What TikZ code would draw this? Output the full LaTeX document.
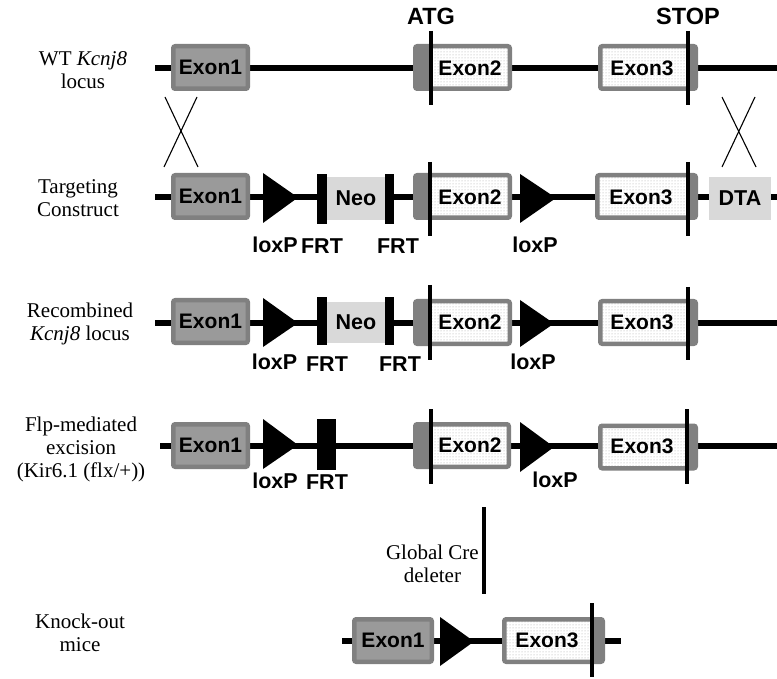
\documentclass[tikz,border=0pt]{standalone}
\usepackage{fontspec}
\setmainfont{Liberation Serif}
\newfontfamily\arialb{Liberation Sans}
\usetikzlibrary{patterns}
\definecolor{exborder}{HTML}{808080}
\definecolor{exfill}{HTML}{9A9A9A}
\definecolor{neofill}{HTML}{D9D9D9}
\definecolor{dotgray}{HTML}{A8A8A8}
\begin{document}
\begin{tikzpicture}[x=1pt,y=-1pt,
  dna/.style={line width=5.5pt},
  exbase/.style={draw=exborder, line width=4.5pt, rounded corners=2pt, inner sep=0pt, outer sep=0pt, minimum height=42.5pt},
  exonA/.style={exbase, fill=exfill, font=\arialb\bfseries\fontsize{21}{23}\selectfont},
  exonB/.style={exbase, preaction={fill=white}, pattern=dots, pattern color=dotgray},
  graypart/.style={fill=exborder},
  exlab/.style={font=\arialb\bfseries\fontsize{21}{23}\selectfont, inner sep=0pt},
  lab/.style={font=\arialb\bfseries\fontsize{21.5}{23}\selectfont, inner sep=0pt},
  biglab/.style={font=\arialb\bfseries\fontsize{23.5}{25}\selectfont, inner sep=0pt},
  codon/.style={line width=3.5pt},
  cross/.style={line width=1.1pt},
  frtbar/.style={fill=black, draw=none, inner sep=0pt, outer sep=0pt},
  greybox/.style={fill=neofill, draw=none, inner sep=0pt, outer sep=0pt, font=\arialb\bfseries\fontsize{21.5}{23}\selectfont},
  side/.style={align=center, font=\fontsize{21}{23}\selectfont, inner sep=0pt},
  loxp/.style={fill=black},
]
\useasboundingbox (0,0) rectangle (777,679);

% ---------- side labels ----------
\node[side] (l1) at (83,70) {WT \textit{Kcnj8}\\locus};
\node[side] (l2) at (78,198.5) {Targeting\\Construct};
\node[side] (l3) at (80,323.5) {Recombined\\\textit{Kcnj8} locus};
\node[side] (l4) at (81,449) {Flp-mediated\\excision\\(Kir6.1 (flx/+))};
\node[side] (l5) at (80,633) {Knock-out\\mice};

% ---------- Row 1: WT ----------
\draw[dna] (155,68) -- (777,68);
\node[exonA, minimum width=74.5pt] (r1e1) at (210.5,67.5) {Exon1};
\node[exonB, minimum width=94.5pt] (r1e2) at (462.5,67.5) {};
\coordinate (r1atg) at (431,68);
\fill[graypart] (r1e2.north west) rectangle (r1e2.south -| r1atg);
\node[exlab] (r1e2t) at (470,68) {Exon2};
\node[exonB, minimum width=95.5pt] (r1e3) at (648,67.5) {};
\coordinate (r1stop) at (688,68);
\fill[graypart] (r1e3.north east) rectangle (r1e3.south -| r1stop);
\node[exlab] (r1e3t) at (642,68) {Exon3};
\draw[codon] (431,31) -- (431,105);
\draw[codon] (688,31) -- (688,105);
\node[biglab] (atg) at (431,16.5) {ATG};
\node[biglab] (stop) at (688,16.5) {STOP};

% crosses
\draw[cross] (165,97) -- (198,167);
\draw[cross] (197,97) -- (164,167);
\draw[cross] (722,97) -- (756,167);
\draw[cross] (755,97) -- (722,167);

% ---------- Row 2: Targeting construct ----------
\draw[dna] (155,197) -- (777,197);
\node[exonA, minimum width=74.5pt] (r2e1) at (210.5,196.5) {Exon1};
\fill[loxp] (263,173) -- (298,197.5) -- (263,223) -- cycle;
\node[greybox, minimum width=58pt, minimum height=43pt] (r2neo) at (356,198.5) {Neo};
\node[frtbar, minimum width=10pt, minimum height=50pt] (r2f1) at (322,199) {};
\node[frtbar, minimum width=9pt, minimum height=50pt] (r2f2) at (389.5,199) {};
\node[exonB, minimum width=94.5pt] (r2e2) at (462.5,196.5) {};
\coordinate (r2atg) at (430,197);
\fill[graypart] (r2e2.north west) rectangle (r2e2.south -| r2atg);
\node[exlab] (r2e2t) at (470,197) {Exon2};
\fill[loxp] (520,174) -- (556,198) -- (520,223) -- cycle;
\node[exonB, minimum width=98.5pt] (r2e3) at (646.5,196.5) {};
\coordinate (r2stop) at (688,197);
\fill[graypart] (r2e3.north east) rectangle (r2e3.south -| r2stop);
\node[exlab] (r2e3t) at (641,197) {Exon3};
\node[greybox, minimum width=62pt, minimum height=43pt] (dta) at (740,198.5) {DTA};
\draw[codon] (430,162) -- (430,236);
\draw[codon] (688,162) -- (688,236);
\node[lab] (r2lx1) at (275,245) {loxP};
\node[lab] (r2fr1) at (322,246) {FRT};
\node[lab] (r2fr2) at (398,246) {FRT};
\node[lab] (r2lx2) at (535,245) {loxP};

% ---------- Row 3: Recombined locus ----------
\draw[dna] (155,323) -- (777,323);
\node[exonA, minimum width=74.5pt] (r3e1) at (210.5,321.5) {Exon1};
\fill[loxp] (263,298) -- (298,323) -- (263,347) -- cycle;
\node[greybox, minimum width=58pt, minimum height=41pt] (r3neo) at (356,322.5) {Neo};
\node[frtbar, minimum width=10pt, minimum height=48pt] (r3f1) at (322,321) {};
\node[frtbar, minimum width=9pt, minimum height=48pt] (r3f2) at (389.5,321) {};
\node[exonB, minimum width=94.5pt] (r3e2) at (462.5,322.5) {};
\coordinate (r3atg) at (430,323);
\fill[graypart] (r3e2.north west) rectangle (r3e2.south -| r3atg);
\node[exlab] (r3e2t) at (470,322) {Exon2};
\fill[loxp] (520,300) -- (554,323.5) -- (520,347) -- cycle;
\node[exonB, minimum width=95.5pt] (r3e3) at (648,322.5) {};
\coordinate (r3stop) at (688,323);
\fill[graypart] (r3e3.north east) rectangle (r3e3.south -| r3stop);
\node[exlab] (r3e3t) at (642,322) {Exon3};
\draw[codon] (430,285) -- (430,360);
\draw[codon] (688,287) -- (688,360);
\node[lab] (r3lx1) at (274.5,362) {loxP};
\node[lab] (r3fr1) at (327,364) {FRT};
\node[lab] (r3fr2) at (400,364) {FRT};
\node[lab] (r3lx2) at (533,362) {loxP};

% ---------- Row 4: Flp-mediated excision ----------
\draw[dna] (160,446) -- (777,446);
\node[exonA, minimum width=74.5pt] (r4e1) at (210.5,445.5) {Exon1};
\fill[loxp] (263,419) -- (298,445) -- (263,469) -- cycle;
\node[frtbar, minimum width=19pt, minimum height=51pt] (r4f1) at (326.5,444.5) {};
\node[exonB, minimum width=93.5pt] (r4e2) at (462,445.5) {};
\coordinate (r4atg) at (431,446);
\fill[graypart] (r4e2.north west) rectangle (r4e2.south -| r4atg);
\node[exlab] (r4e2t) at (470,445) {Exon2};
\fill[loxp] (520,422) -- (554,447) -- (520,472) -- cycle;
\node[exonB, minimum width=95.5pt] (r4e3) at (648,447) {};
\coordinate (r4stop) at (687,446);
\fill[graypart] (r4e3.north east) rectangle (r4e3.south -| r4stop);
\node[exlab] (r4e3t) at (642,446) {Exon3};
\draw[codon] (431,409) -- (431,484);
\draw[codon] (687,409) -- (687,484);
\node[lab] (r4lx1) at (275,481) {loxP};
\node[lab] (r4fr1) at (327,482) {FRT};
\node[lab] (r4lx2) at (555,480) {loxP};

% ---------- Global Cre deleter ----------
\coordinate (cretop) at (484,507);
\coordinate (crebot) at (484,594);
\draw[line width=4pt] (cretop) -- (crebot);
\node[side, anchor=east] (cre) at (479,564) {Global Cre\\deleter};

% ---------- Row 5: Knock-out ----------
\draw[dna] (342,641) -- (621,641);
\node[exonA, minimum width=77.5pt] (r5e1) at (393,640.5) {Exon1};
\fill[loxp] (440,617) -- (474,641.5) -- (440,666) -- cycle;
\node[exonB, minimum width=98.5pt] (r5e3) at (553.5,640.5) {};
\coordinate (r5stop) at (592,641);
\fill[graypart] (r5e3.north east) rectangle (r5e3.south -| r5stop);
\node[exlab] (r5e3t) at (547,640) {Exon3};
\draw[codon] (592,603) -- (592,677);
\end{tikzpicture}
\end{document}
